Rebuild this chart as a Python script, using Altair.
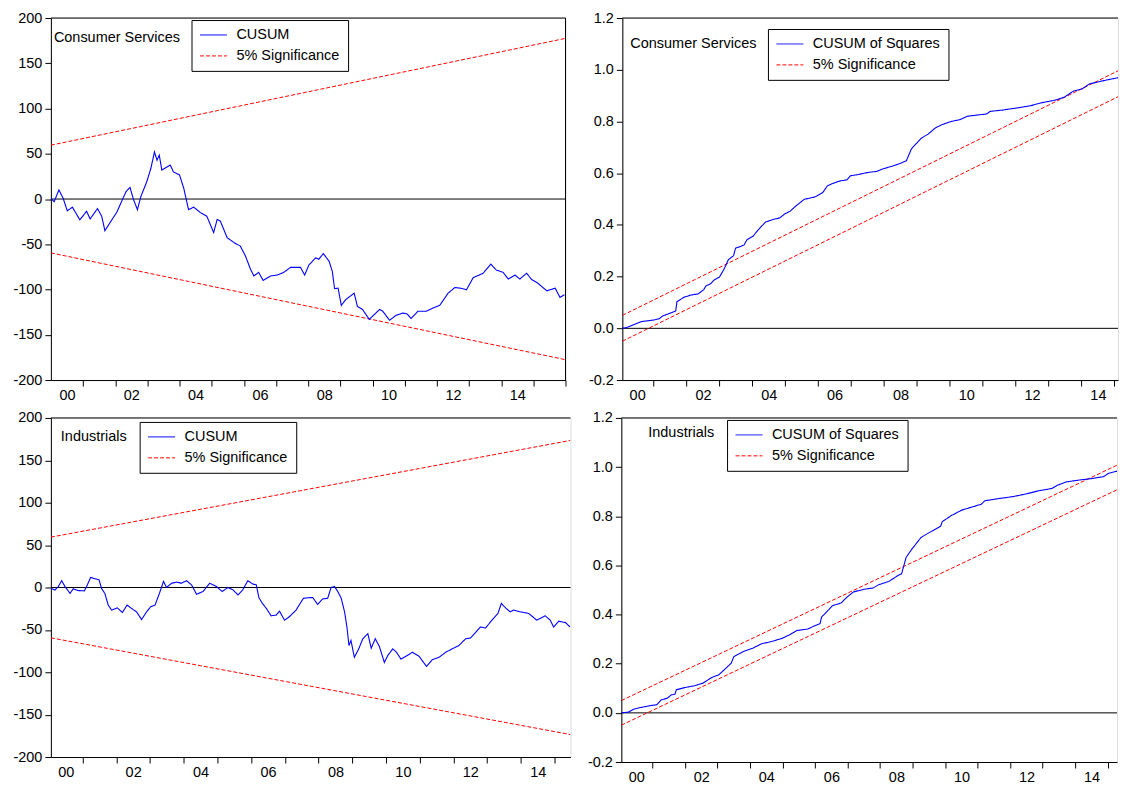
import altair as alt
import pandas as pd

FONT = "Liberation Sans"
FS = 14.5
BLUE = "#0000ff"
RED = "#ff0000"
SIG = "5% Significance"

# ---------------- Consumer Services : CUSUM ----------------
cs_cusum_t = [2000.0, 2000.1, 2000.25, 2000.38, 2000.51, 2000.67, 2000.9, 2001.11, 2001.22, 2001.45,
              2001.58, 2001.68, 2001.84, 2002.05, 2002.2, 2002.34, 2002.46, 2002.57, 2002.69, 2002.8,
              2002.98, 2003.11, 2003.22, 2003.3, 2003.37, 2003.45, 2003.71, 2003.81, 2004.0, 2004.13,
              2004.28, 2004.44, 2004.65, 2004.85, 2005.06, 2005.17, 2005.27, 2005.48, 2005.69, 2005.89,
              2006.05, 2006.2, 2006.31, 2006.46, 2006.6, 2006.83, 2007.04, 2007.24, 2007.45, 2007.76,
              2007.89, 2008.02, 2008.23, 2008.33, 2008.47, 2008.65, 2008.75, 2008.82, 2008.93, 2009.03,
              2009.17, 2009.3, 2009.43, 2009.53, 2009.69, 2009.9, 2010.0, 2010.22, 2010.32, 2010.53,
              2010.73, 2010.94, 2011.08, 2011.2, 2011.41, 2011.67, 2011.88, 2012.09, 2012.35, 2012.56,
              2012.74, 2012.92, 2013.13, 2013.44, 2013.68, 2013.85, 2014.06, 2014.22, 2014.43, 2014.58,
              2014.79, 2014.95, 2015.14, 2015.42, 2015.68, 2015.83, 2015.97]
cs_cusum_v = [1, -3, 10, 1, -13, -9, -23, -13.5, -22, -10.6,
              -19, -35, -26, -14.6, -2.5, 8.4, 12.8, -0.7, -11.7, 3,
              19, 34, 52, 43, 48.5, 32, 37.6, 30, 26.6, 12,
              -11.7, -9, -15, -19, -37, -22.6, -24.5, -42.7, -48, -52,
              -63, -77, -85, -81, -90, -85, -84, -81, -75.5, -75.5,
              -84, -73, -65, -66.5, -60.3, -68.7, -80, -99, -98.5, -117.5,
              -111, -107.5, -104, -118.6, -122, -133, -129.5, -122, -124, -134,
              -128.5, -126, -127, -132, -124, -124, -120.5, -117.5, -104, -97.8,
              -98.5, -100.3, -86.9, -82, -71.9, -78.5, -81, -88.4, -84, -88.4,
              -82, -89, -93, -101.4, -98.5, -108.7, -105.8]
cs_cusum_bound_t = [2000.0, 2016.0]
cs_cusum_upper = [59.5, 177.5]
cs_cusum_lower = [-59.5, -177.5]

# ---------------- Industrials : CUSUM ----------------
ind_cusum_t = [2000.06, 2000.18, 2000.28, 2000.38, 2000.48, 2000.63, 2000.72, 2000.87, 2001.05, 2001.12,
               2001.24, 2001.36, 2001.49, 2001.56, 2001.66, 2001.76, 2001.86, 2002.03, 2002.18, 2002.32,
               2002.45, 2002.6, 2002.75, 2002.9, 2003.02, 2003.15, 2003.28, 2003.4, 2003.49, 2003.64,
               2003.79, 2003.93, 2004.08, 2004.23, 2004.38, 2004.57, 2004.77, 2004.97, 2005.14, 2005.31,
               2005.46, 2005.61, 2005.75, 2005.9, 2006.05, 2006.15, 2006.23, 2006.33, 2006.45, 2006.59,
               2006.74, 2006.84, 2006.99, 2007.13, 2007.33, 2007.55, 2007.73, 2007.83, 2007.97, 2008.12,
               2008.27, 2008.37, 2008.47, 2008.57, 2008.67, 2008.77, 2008.84, 2008.9, 2008.96, 2009.06,
               2009.19, 2009.31, 2009.46, 2009.56, 2009.68, 2009.8, 2009.95, 2010.05, 2010.2, 2010.31,
               2010.44, 2010.59, 2010.78, 2010.98, 2011.2, 2011.37, 2011.57, 2011.77, 2011.96, 2012.16,
               2012.36, 2012.5, 2012.65, 2012.8, 2012.95, 2013.14, 2013.32, 2013.42, 2013.54, 2013.68,
               2013.78, 2013.98, 2014.23, 2014.47, 2014.72, 2014.87, 2014.97, 2015.12, 2015.32, 2015.46]
ind_cusum_v = [-1, -3, 1, 8, 1, -7, -1.6, -3.6, -4, 1.2,
               12, 10.3, 9, -1, -7, -20.7, -26.7, -24, -29.5, -20.7,
               -24.7, -28.7, -37.8, -28.7, -22.7, -20.7, -6.8, 7.2, 0, 5,
               6.4, 5, 8, 3.2, -8, -4.8, 5, 1.2, -4.8, 0,
               -2.8, -8.8, -2.8, 8, 4, 3.2, -12, -18.7, -24.7, -33.4,
               -32.6, -27.9, -38.6, -34.6, -26.7, -12.7, -12, -12, -20, -13.5,
               -12.7, 0, 1.2, -4.8, -12.7, -28.7, -46.6, -68.5, -62.5, -82.4,
               -72.4, -60.5, -54.5, -71.6, -60.5, -69.3, -88.4, -80.4, -72.4, -76.4,
               -84.4, -81.2, -76.4, -81.2, -93.1, -85.2, -82.4, -76.4, -72.4, -68.5,
               -60.5, -59.7, -53.3, -46.6, -47.8, -38.6, -30.6, -18.7, -23.9, -28.7,
               -26.7, -28.7, -30.6, -38.6, -33.4, -38.6, -46.6, -39.8, -41.4, -46.6]
ind_cusum_bound_t = [2000.06, 2015.47]
ind_cusum_upper = [59.4, 173.5]
ind_cusum_lower = [-59.4, -173.5]

# ---------------- Consumer Services : CUSUM of Squares ----------------
cs_sq_t = [2000.05, 2000.2, 2000.63, 2001.0, 2001.17, 2001.28, 2001.49, 2001.67, 2001.71, 2001.92,
           2002.14, 2002.35, 2002.52, 2002.59, 2002.73, 2002.84, 2003.0, 2003.14, 2003.27, 2003.43,
           2003.49, 2003.65, 2003.75, 2003.84, 2004.02, 2004.18, 2004.4, 2004.61, 2004.83, 2004.99,
           2005.15, 2005.31, 2005.58, 2005.9, 2006.14, 2006.28, 2006.44, 2006.66, 2006.87, 2006.98,
           2007.19, 2007.52, 2007.78, 2007.95, 2008.27, 2008.48, 2008.68, 2008.83, 2008.97, 2009.13,
           2009.34, 2009.56, 2009.77, 2010.04, 2010.31, 2010.53, 2010.85, 2011.12, 2011.23, 2011.6,
           2012.03, 2012.46, 2012.78, 2013.22, 2013.48, 2013.75, 2014.02, 2014.24, 2014.61, 2014.94,
           2015.34]
cs_sq_v = [0.0, 0.004, 0.026, 0.032, 0.037, 0.048, 0.058, 0.067, 0.103, 0.12,
           0.129, 0.133, 0.149, 0.164, 0.172, 0.187, 0.198, 0.229, 0.265, 0.281,
           0.31, 0.317, 0.323, 0.343, 0.356, 0.381, 0.411, 0.42, 0.427, 0.443,
           0.453, 0.472, 0.499, 0.508, 0.525, 0.551, 0.56, 0.57, 0.574, 0.59,
           0.594, 0.603, 0.607, 0.616, 0.628, 0.637, 0.648, 0.693, 0.713, 0.735,
           0.751, 0.775, 0.788, 0.80, 0.807, 0.82, 0.825, 0.829, 0.839, 0.844,
           0.852, 0.861, 0.872, 0.883, 0.894, 0.917, 0.926, 0.945, 0.956, 0.965,
           0.974]
cs_sq_bound_t = [2000.05, 2015.34]
cs_sq_upper = [0.05, 1.01]
cs_sq_lower = [-0.05, 0.91]

# ---------------- Industrials : CUSUM of Squares ----------------
ind_sq_t = [2000.04, 2000.26, 2000.42, 2000.64, 2000.91, 2001.13, 2001.27, 2001.46, 2001.57, 2001.69,
            2001.73, 2002.0, 2002.28, 2002.55, 2002.82, 2003.04, 2003.26, 2003.42, 2003.5, 2003.8,
            2004.08, 2004.35, 2004.68, 2005.0, 2005.22, 2005.44, 2005.77, 2005.98, 2006.15, 2006.2,
            2006.37, 2006.53, 2006.8, 2006.97, 2007.18, 2007.51, 2007.78, 2007.95, 2008.27, 2008.55,
            2008.66, 2008.8, 2008.98, 2009.26, 2009.53, 2009.86, 2009.91, 2010.18, 2010.51, 2010.89,
            2011.11, 2011.22, 2011.65, 2012.09, 2012.53, 2012.85, 2013.28, 2013.45, 2013.73, 2014.16,
            2014.49, 2014.87, 2015.03, 2015.31, 2015.56]
ind_sq_v = [0.0, 0.003, 0.015, 0.022, 0.029, 0.033, 0.053, 0.06, 0.073, 0.076,
            0.094, 0.103, 0.11, 0.121, 0.144, 0.155, 0.182, 0.202, 0.229, 0.25,
            0.263, 0.281, 0.291, 0.304, 0.318, 0.335, 0.341, 0.354, 0.363, 0.39,
            0.413, 0.436, 0.447, 0.47, 0.492, 0.503, 0.508, 0.521, 0.535, 0.559,
            0.566, 0.633, 0.667, 0.714, 0.735, 0.759, 0.778, 0.802, 0.825, 0.84,
            0.849, 0.863, 0.872, 0.88, 0.892, 0.903, 0.913, 0.926, 0.94, 0.948,
            0.953, 0.961, 0.975, 0.984, 0.988]
ind_sq_bound_t = [2000.04, 2015.56]
ind_sq_upper = [0.05, 1.025]
ind_sq_lower = [-0.05, 0.925]

cusum_ticks = [200, 150, 100, 50, 0, -50, -100, -150, -200]
sq_ticks = [1.2, 1.0, 0.8, 0.6, 0.4, 0.2, 0.0, -0.2]


def panel(name, series_label, t, v, bt, up, lo, xdom, ydom, yticks, ydec,
          W, H, leg_xy, title_xy, right_border):
    main_df = pd.DataFrame({"t": t[:len(v)], "v": v[:len(t)], "s": series_label})
    bnd_df = pd.DataFrame({"t": bt + bt, "v": up + lo, "s": SIG,
                           "g": ["up"] * len(bt) + ["lo"] * len(bt)})
    fmt = ".1f" if ydec else "d"
    y_label_expr = "(datum.value < 0 ? '-' : '') + format(abs(datum.value), '%s')" % fmt
    # year-boundary ticks inside the domain
    years = [yr for yr in range(2000, 2017) if xdom[0] + 0.3 <= yr <= xdom[1] + 0.001]
    px_per_year = W / (xdom[1] - xdom[0])
    # the label of an even year Y sits mid-year: half a year left of the tick closing year Y
    x_label_expr = ("((datum.value - 1) % 2 == 0) ? "
                    "((datum.value - 1 < 2010 ? '0' : '') + toString(datum.value - 2001)) : ''")
    x_enc = alt.X("t:Q",
                  scale=alt.Scale(domain=xdom, nice=False, zero=False),
                  axis=alt.Axis(values=years, tickCount=100, labelExpr=x_label_expr,
                                labelOffset=-px_per_year / 2, labelFlush=False,
                                labelOverlap=False, tickSize=6, labelPadding=3,
                                grid=False, title=None, labelFontSize=FS, labelFont=FONT,
                                labelColor="black", tickColor="black", domainColor="black"))
    y_enc = alt.Y("v:Q",
                  scale=alt.Scale(domain=ydom, nice=False, zero=False),
                  axis=alt.Axis(values=yticks, tickCount=100, labelExpr=y_label_expr, tickSize=6,
                                labelPadding=3, grid=False, title=None, labelFontSize=FS,
                                labelFont=FONT, labelColor="black", tickColor="black",
                                domainColor="black", labelOverlap=False, labelFlush=False))
    legend = alt.Legend(orient="none", legendX=leg_xy[0], legendY=leg_xy[1], title=None,
                        strokeColor="black", fillColor="white", padding=8,
                        symbolType="stroke", symbolSize=729, symbolStrokeWidth=1,
                        labelFontSize=FS, labelFont=FONT, labelColor="black",
                        labelOffset=9, rowPadding=6, clipHeight=14, labelLimit=400)
    dom = [series_label, SIG]
    color = alt.Color("s:N", scale=alt.Scale(domain=dom, range=[BLUE, RED]), legend=legend)
    dash = alt.StrokeDash("s:N", scale=alt.Scale(domain=dom, range=[[1, 0], [4, 2]]), legend=legend)

    bounds = alt.Chart(bnd_df).mark_line(clip=True, strokeWidth=1).encode(
        x=x_enc, y=y_enc, color=color, strokeDash=dash, detail="g:N")
    zero = alt.Chart(pd.DataFrame({"z": [0]})).mark_rule(color="black", strokeWidth=1).encode(
        y="z:Q")
    main = alt.Chart(main_df).mark_line(clip=True, strokeWidth=1.1).encode(
        x="t:Q", y="v:Q", color=color, strokeDash=dash)
    title = alt.Chart(pd.DataFrame({"label": [name]})).mark_text(
        align="left", baseline="middle", font=FONT, fontSize=FS, color="black").encode(
        x=alt.value(title_xy[0]), y=alt.value(title_xy[1]), text="label:N")
    one = pd.DataFrame({"a": [0]})
    top = alt.Chart(one).mark_rule(color="black", strokeWidth=1).encode(
        x=alt.value(0), x2=alt.value(W), y=alt.value(0))
    layers = [zero, bounds, main, top, title]
    if right_border:
        layers.append(alt.Chart(one).mark_rule(color="black", strokeWidth=1).encode(
            x=alt.value(W), y=alt.value(0), y2=alt.value(H)))
    return alt.layer(*layers).properties(width=W, height=H)


W_TL, H_TOP = 516, 363
W_R = 497
W_BL = 521
H_BL, H_BR = 340, 345

tl = panel("Consumer Services", "CUSUM", cs_cusum_t, cs_cusum_v, cs_cusum_bound_t,
           cs_cusum_upper, cs_cusum_lower, [2000.0, 2016.0], [-200, 200], cusum_ticks, False,
           W_TL, H_TOP, (141, 2), (3, 20), True)
tr = panel("Consumer Services", "CUSUM of Squares", cs_sq_t, cs_sq_v, cs_sq_bound_t,
           cs_sq_upper, cs_sq_lower, [2000.05, 2000.05 + W_R / 33.0], [-0.2, 1.2], sq_ticks, True,
           W_R, H_TOP, (146, 11), (8, 26), False)
bl = panel("Industrials", "CUSUM", ind_cusum_t, ind_cusum_v, ind_cusum_bound_t,
           ind_cusum_upper, ind_cusum_lower, [2000.06, 2015.47], [-200, 200], cusum_ticks, False,
           W_BL, H_BL, (89, 4), (10, 19), False)
br = panel("Industrials", "CUSUM of Squares", ind_sq_t, ind_sq_v, ind_sq_bound_t,
           ind_sq_upper, ind_sq_lower, [2000.04, 2000.04 + W_R / 32.6], [-0.2, 1.2], sq_ticks, True,
           W_R, H_BR, (106, 2), (27, 15), False)

row1 = alt.hconcat(tl, tr, spacing=21).resolve_scale(color="independent", strokeDash="independent")
row2 = alt.hconcat(bl, br, spacing=15).resolve_scale(color="independent", strokeDash="independent")
chart = alt.vconcat(row1, row2, spacing=6).resolve_scale(
    color="independent", strokeDash="independent").properties(
    padding={"left": 4, "top": 0, "right": 0, "bottom": 0}
).configure_view(stroke=None).configure(font=FONT, background="white")

chart.save("out.html", embed_options={"renderer": "svg", "actions": False})
